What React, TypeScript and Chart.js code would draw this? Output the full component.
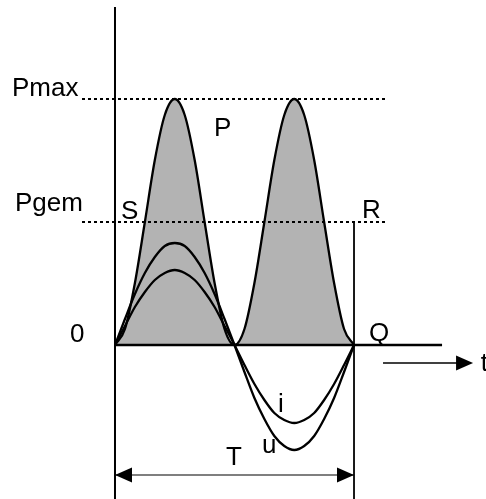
import React, { useEffect, useRef } from "react";
import { Chart, registerables } from "chart.js";

Chart.register(...registerables);

// Phase angle of one period (degrees)
const angles = [0, 15, 30, 45, 60, 75, 90, 105, 120, 135, 150, 165, 180, 195, 210, 225, 240, 255, 270, 285, 300, 315, 330, 345, 360];
// Voltage u
const uValues = [0, 0.26, 0.51, 0.72, 0.88, 0.99, 1.02, 0.99, 0.88, 0.72, 0.51, 0.26, 0, -0.27, -0.53, -0.74, -0.91, -1.01, -1.05, -1.01, -0.91, -0.74, -0.53, -0.27, 0];
// Current i
const iValues = [0, 0.19, 0.38, 0.53, 0.65, 0.72, 0.75, 0.72, 0.65, 0.53, 0.38, 0.19, 0, -0.2, -0.39, -0.55, -0.68, -0.75, -0.78, -0.75, -0.68, -0.55, -0.39, -0.2, 0];
// Power P
const pValues = [0, 0.16, 0.62, 1.23, 1.85, 2.3, 2.46, 2.3, 1.85, 1.23, 0.62, 0.16, 0, 0.16, 0.62, 1.23, 1.85, 2.3, 2.46, 2.3, 1.85, 1.23, 0.62, 0.16, 0];
// Reference levels
const levelNames = ["Pmax", "Pgem"];
const levelValues = [2.46, 1.23];
const periodEnd = 360;

const X_MIN = -173.2;
const X_MAX = 558.8;
const Y_MIN = -1.54;
const Y_MAX = 3.45;

const FONT = '26px "Liberation Sans", Arial, sans-serif';

function pts(xs: number[], ys: number[]) {
  return xs.map((x, k) => ({ x, y: ys[k] }));
}

function seg(x1: number, y1: number, x2: number, y2: number) {
  return [
    { x: x1, y: y1 },
    { x: x2, y: y2 },
  ];
}

const overlayPlugin = {
  id: "overlay",
  afterDatasetsDraw(chart: any) {
    const ctx = chart.ctx as CanvasRenderingContext2D;
    const xs = chart.scales.x;
    const ys = chart.scales.y;
    const px = (v: number) => xs.getPixelForValue(v);
    const py = (v: number) => ys.getPixelForValue(v);

    const arrowHead = (tipX: number, tipY: number, dir: number) => {
      ctx.beginPath();
      ctx.moveTo(tipX, tipY);
      ctx.lineTo(tipX - dir * 17, tipY - 7.5);
      ctx.lineTo(tipX - dir * 17, tipY + 7.5);
      ctx.closePath();
      ctx.fillStyle = "#000";
      ctx.fill();
    };

    ctx.save();
    // T arrow heads
    const yT = py(-1.3);
    arrowHead(px(0), yT, -1);
    arrowHead(px(periodEnd), yT, 1);
    // t arrow head
    arrowHead(px(539.3), py(-0.18), 1);

    // labels
    ctx.font = FONT;
    ctx.fillStyle = "#000";
    ctx.textBaseline = "alphabetic";
    ctx.textAlign = "left";
    const x0 = px(0);
    const y0 = py(0);
    const label = (t: string, x: number, y: number) => ctx.fillText(t, x, y);
    label(levelNames[0], x0 - 103, py(levelValues[0]) - 3);
    label(levelNames[1], x0 - 100, py(levelValues[1]) - 11);
    label("S", x0 + 6, py(levelValues[1]) - 3);
    label("P", x0 + 99, py(levelValues[0]) + 37);
    label("R", px(periodEnd) + 8, py(levelValues[1]) - 4);
    label("0", x0 - 45, y0 - 3);
    label("Q", px(periodEnd) + 15, y0 - 4);
    label("t", px(551), py(-0.26));
    label("i", x0 + 163, y0 + 67);
    label("u", x0 + 147, y0 + 108);
    label("T", x0 + 111, y0 + 120);
    ctx.restore();
  },
};

export default function App() {
  const ref = useRef<HTMLCanvasElement | null>(null);

  useEffect(() => {
    if (!ref.current) return;
    const lineStyle = (width: number, dash: number[] = []) => ({
      borderColor: "#000",
      borderWidth: width,
      borderDash: dash,
      pointRadius: 0,
      fill: false,
      tension: 0,
    });
    const chart = new Chart(ref.current, {
      type: "line",
      data: {
        datasets: [
          {
            label: "i",
            data: pts(angles, iValues),
            ...lineStyle(2.3),
            cubicInterpolationMode: "monotone",
            order: 1,
          },
          {
            label: "u",
            data: pts(angles, uValues),
            ...lineStyle(2.3),
            cubicInterpolationMode: "monotone",
            order: 1,
          },
          {
            label: "P",
            data: pts(angles, pValues),
            borderColor: "#000",
            borderWidth: 2.3,
            pointRadius: 0,
            fill: "origin",
            backgroundColor: "#b3b3b3",
            cubicInterpolationMode: "monotone",
            order: 3,
          },
          { label: "zero", data: seg(0, 0, 492.6, 0), ...lineStyle(2.4), order: 2 },
          { label: "yaxis", data: seg(0, Y_MIN, 0, 3.38), ...lineStyle(2), order: 2 },
          { label: "right", data: seg(periodEnd, Y_MIN, periodEnd, 1.22), ...lineStyle(1.8), order: 2 },
          { label: "Pmax", data: seg(-49.7, levelValues[0], 406.7, levelValues[0]), ...lineStyle(2, [3, 3]), order: 2 },
          { label: "Pgem", data: seg(-49.7, levelValues[1], 406.7, levelValues[1]), ...lineStyle(2, [3, 3]), order: 2 },
          { label: "T", data: seg(0, -1.3, periodEnd, -1.3), ...lineStyle(1.2), order: 2 },
          { label: "tArrow", data: seg(403.7, -0.18, 530, -0.18), ...lineStyle(1.6), order: 2 },
        ],
      } as any,
      options: {
        responsive: false,
        animation: false,
        layout: { padding: 0 },
        plugins: {
          legend: { display: false },
          tooltip: { enabled: false },
          title: { display: false },
        },
        scales: {
          x: { type: "linear", min: X_MIN, max: X_MAX, display: false },
          y: { type: "linear", min: Y_MIN, max: Y_MAX, display: false },
        },
      } as any,
      plugins: [overlayPlugin],
    });
    return () => chart.destroy();
  }, []);

  return (
    <div style={{ position: "fixed", left: 0, top: 0, width: 486, height: 499, background: "#fff" }}>
      <canvas ref={ref} width={486} height={499} style={{ display: "block" }} />
    </div>
  );
}
